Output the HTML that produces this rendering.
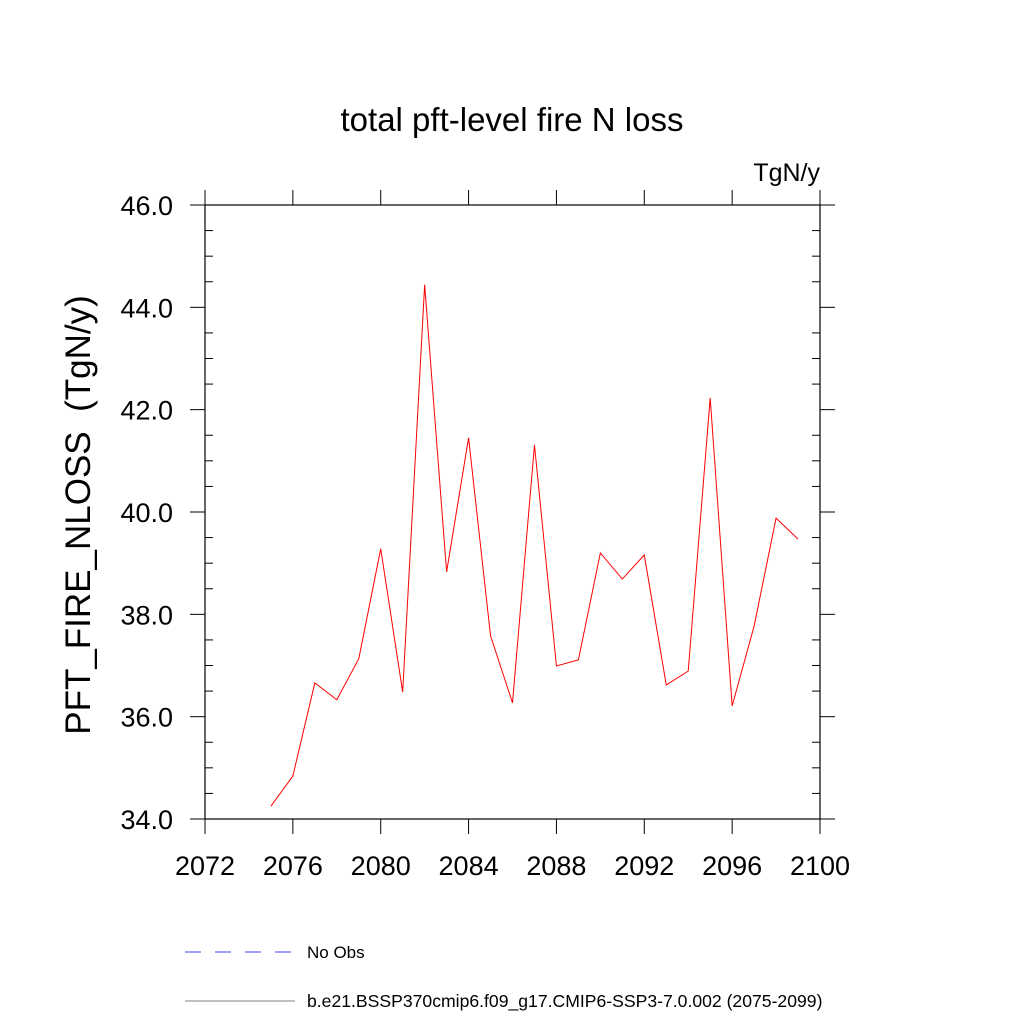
<!DOCTYPE html>
<html><head><meta charset="utf-8"><style>body{margin:0;background:#fff}svg{display:block}</style></head>
<body>
<svg id="chart" width="1024" height="1024" xmlns="http://www.w3.org/2000/svg" font-family="Liberation Sans, sans-serif">
<text x="512" y="131" font-size="33" text-anchor="middle">total pft-level fire N loss</text>
<text x="820" y="181" font-size="25" text-anchor="end">TgN/y</text>
<text transform="translate(90,515) rotate(-90)" font-size="35" text-anchor="middle">PFT_FIRE_NLOSS &#160;(TgN/y)</text>
<rect x="205" y="205" width="615" height="614" fill="none" stroke="#000" stroke-width="1.2"/>
<g id="axes"></g>
<polyline id="series" fill="none" stroke="#ff0000" stroke-width="1"/>
<g>
<line x1="185" y1="952" x2="295" y2="952" stroke="#0000ff" stroke-width="0.8" stroke-dasharray="16,14"/>
<text x="307" y="958" font-size="17">No Obs</text>
<line x1="185" y1="1001" x2="295" y2="1001" stroke="#000" stroke-width="0.6"/>
<text x="307" y="1007" font-size="17.6">b.e21.BSSP370cmip6.f09_g17.CMIP6-SSP3-7.0.002 (2075-2099)</text>
</g>
</svg>
<script>
const years=[2075,2076,2077,2078,2079,2080,2081,2082,2083,2084,2085,2086,2087,2088,2089,2090,2091,2092,2093,2094,2095,2096,2097,2098,2099];
const values=[34.25,34.84,36.66,36.33,37.13,39.28,36.48,44.44,38.83,41.45,37.58,36.27,41.31,36.99,37.11,39.20,38.69,39.16,36.62,36.89,42.23,36.21,37.77,39.88,39.47];
const xTicks=[2072,2076,2080,2084,2088,2092,2096,2100];
const yTicks=[34,36,38,40,42,44,46];
const X=v=>205+(v-2072)*(615/28);
const Y=v=>819-(v-34)*(614/12);
const ns="http://www.w3.org/2000/svg";
const ax=document.getElementById('axes');
function ln(x1,y1,x2,y2,name){const l=document.createElementNS(ns,'line');l.setAttribute('x1',x1);l.setAttribute('y1',y1);l.setAttribute('x2',x2);l.setAttribute('y2',y2);l.setAttribute('stroke','#000');l.setAttribute('stroke-width','1');


ax.appendChild(l);}
function tx(x,y,s,anchor,name){const t=document.createElementNS(ns,'text');t.setAttribute('x',x);t.setAttribute('y',y);t.setAttribute('font-size','27');t.setAttribute('text-anchor',anchor);t.textContent=s;


ax.appendChild(t);}
xTicks.forEach(v=>{const x=X(v);ln(x,819,x,834,'x-tick');ln(x,205,x,190,'x-tick-top');tx(x,875,String(v),'middle','x-tick-label');});
yTicks.forEach(v=>{const y=Y(v);ln(190,y,205,y,'y-tick');ln(820,y,835,y,'y-tick-right');tx(173,y+10,v.toFixed(1),'end','y-tick-label');});
for(let v=34;v<46;v+=0.5){if(Math.abs(v%2)>0.01){const y=Y(v);ln(205,y,213,y,'y-minor-tick');ln(820,y,812,y,'y-minor-tick-right');}}
document.getElementById('series').setAttribute('points',years.map((y,i)=>X(y)+','+Y(values[i])).join(' '));
</script>
</body></html>
